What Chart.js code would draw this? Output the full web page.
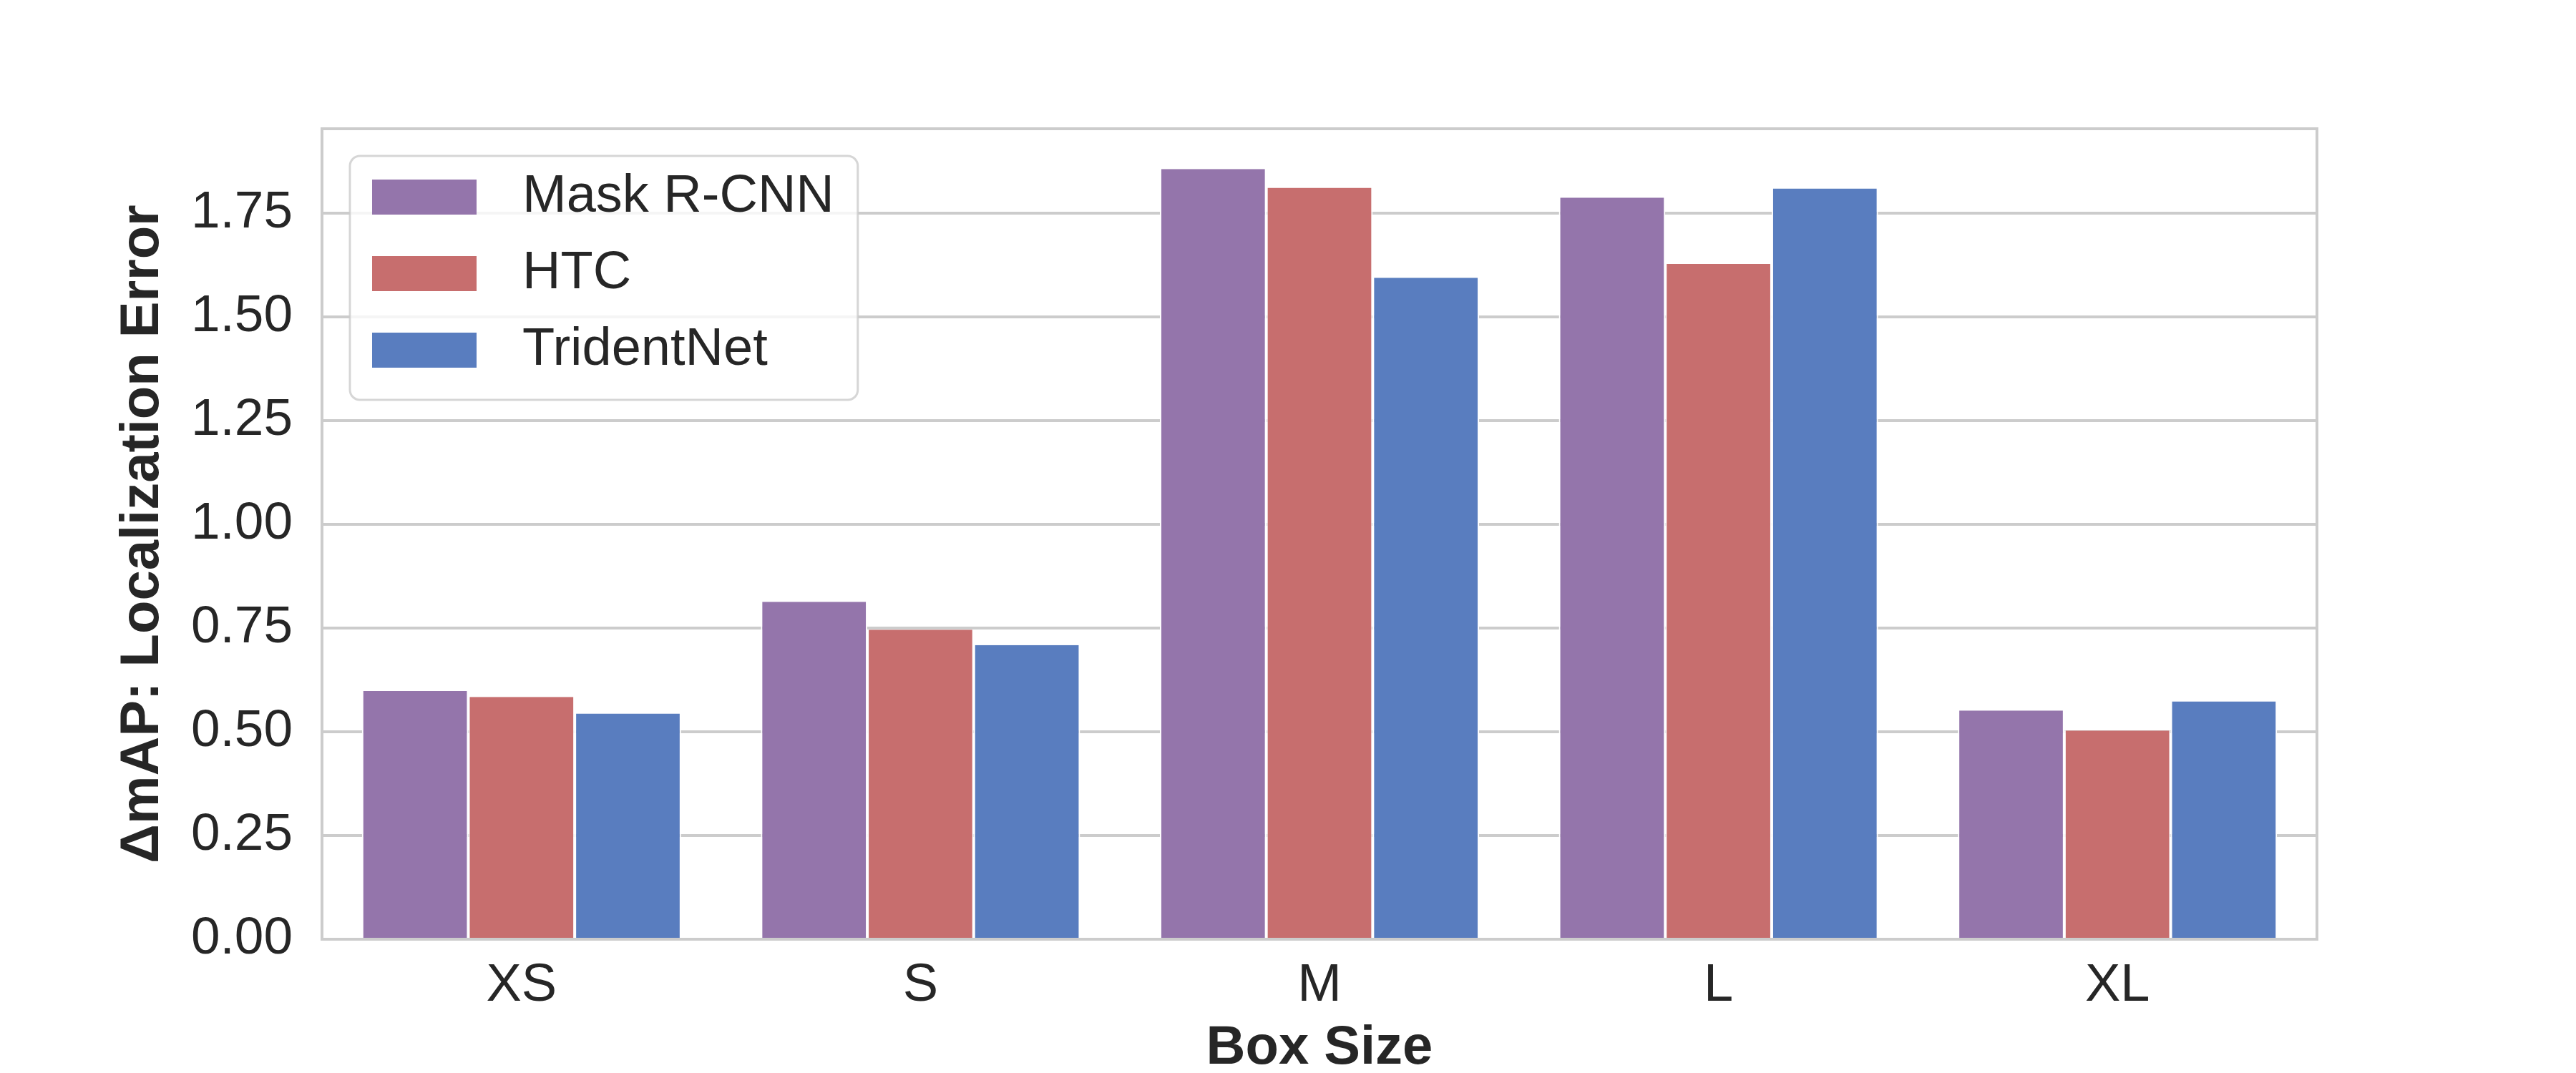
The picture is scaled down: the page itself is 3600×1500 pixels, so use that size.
<!DOCTYPE html>
<html>
<head>
<meta charset="utf-8">
<title>Localization Error by Box Size</title>
<script src="https://cdn.jsdelivr.net/npm/chart.js@4.4.1/dist/chart.umd.min.js"></script>
<style>
  html, body { margin: 0; padding: 0; background: #ffffff; }
  #wrap { width: 3600px; height: 1500px; }
</style>
</head>
<body>
<div id="wrap"><canvas id="chartLocError" width="3600" height="1500"></canvas></div>
<script>
// values
var boxSizes = ["XS", "S", "M", "L", "XL"];
var seriesNames = ["Mask R-CNN", "HTC", "TridentNet"];
var maskRcnn = [0.598, 0.813, 1.856, 1.787, 0.551];
var htc = [0.584, 0.746, 1.811, 1.627, 0.503];
var tridentNet = [0.544, 0.709, 1.594, 1.809, 0.573];
var yTicks = [0, 0.25, 0.5, 0.75, 1.0, 1.25, 1.5, 1.75];

var colors = ["#9475AB", "#C76E6E", "#597DBF"];
var textColor = "#262626";
var fontFamily = "'Liberation Sans', Arial, sans-serif";

// spines on all four sides, on top of the bars like matplotlib
var framePlugin = {
  id: "frame",
  afterDatasetsDraw: function (chart) {
    var a = chart.chartArea;
    var ctx = chart.ctx;
    ctx.save();
    ctx.strokeStyle = "#cccccc";
    ctx.lineWidth = 4;
    ctx.strokeRect(a.left, a.top, a.right - a.left, a.bottom - a.top);
    ctx.restore();
  }
};

// legend inside the axes with a rounded, semi transparent frame
var legendPlugin = {
  id: "boxLegend",
  afterDraw: function (chart) {
    var ctx = chart.ctx;
    var sets = chart.data.datasets;
    var x0 = 489, y0 = 218;
    var swX = 520, swY = 251, swW = 146, swH = 49, step = 107;
    var textX = 730;

    ctx.save();
    ctx.font = "74px " + fontFamily;
    var maxW = 0;
    sets.forEach(function (ds) {
      maxW = Math.max(maxW, ctx.measureText(ds.label).width);
    });
    var w = textX + maxW + 33 - x0;
    var h = 341;

    ctx.beginPath();
    if (ctx.roundRect) {
      ctx.roundRect(x0, y0, w, h, 14);
    } else {
      ctx.rect(x0, y0, w, h);
    }
    ctx.fillStyle = "rgba(255,255,255,0.8)";
    ctx.fill();
    ctx.lineWidth = 3;
    ctx.strokeStyle = "rgba(204,204,204,0.8)";
    ctx.stroke();

    ctx.textAlign = "left";
    ctx.textBaseline = "middle";
    sets.forEach(function (ds, i) {
      var y = swY + i * step;
      ctx.fillStyle = ds.backgroundColor;
      ctx.fillRect(swX, y, swW, swH);
      ctx.fillStyle = textColor;
      ctx.fillText(ds.label, textX, y + swH / 2);
    });
    ctx.restore();
  }
};

function makeSet(label, values, color) {
  return {
    label: label,
    data: values,
    backgroundColor: color,
    borderColor: "#ffffff",
    borderWidth: { left: 2, right: 2, top: 0, bottom: 0 },
    borderSkipped: false,
    categoryPercentage: 0.8,
    barPercentage: 1.0
  };
}

var ctx = document.getElementById("chartLocError").getContext("2d");

new Chart(ctx, {
  type: "bar",
  data: {
    labels: boxSizes,
    datasets: [
      makeSet(seriesNames[0], maskRcnn, colors[0]),
      makeSet(seriesNames[1], htc, colors[1]),
      makeSet(seriesNames[2], tridentNet, colors[2])
    ]
  },
  options: {
    responsive: false,
    animation: false,
    devicePixelRatio: 1,
    layout: {
      padding: { top: 180, right: 362, left: 0, bottom: 0 }
    },
    plugins: {
      legend: { display: false },
      tooltip: { enabled: false }
    },
    scales: {
      x: {
        grid: { display: false, drawTicks: false },
        border: { display: false },
        ticks: {
          color: textColor,
          padding: 21,
          font: { size: 74, family: fontFamily }
        },
        title: {
          display: true,
          text: "Box Size",
          color: textColor,
          font: { size: 76, weight: "bold", family: fontFamily, lineHeight: 0.9 },
          padding: { top: 0, bottom: 0 }
        },
        afterFit: function (scale) {
          scale.height = 187;
        }
      },
      y: {
        min: 0,
        max: 1.953,
        grid: {
          color: "#cccccc",
          lineWidth: 4,
          drawTicks: false
        },
        border: { display: false },
        afterBuildTicks: function (scale) {
          scale.ticks = yTicks.map(function (v) { return { value: v }; });
        },
        ticks: {
          color: textColor,
          padding: 41,
          includeBounds: false,
          font: { size: 73, family: fontFamily },
          callback: function (v) { return Number(v).toFixed(2); }
        },
        title: {
          display: true,
          text: "ΔmAP: Localization Error",
          color: textColor,
          font: { size: 76, weight: "bold", family: fontFamily, lineHeight: 1 },
          padding: { top: 162, bottom: 0 }
        },
        afterFit: function (scale) {
          scale.width = 450;
        }
      }
    }
  },
  plugins: [framePlugin, legendPlugin]
});
</script>
</body>
</html>
